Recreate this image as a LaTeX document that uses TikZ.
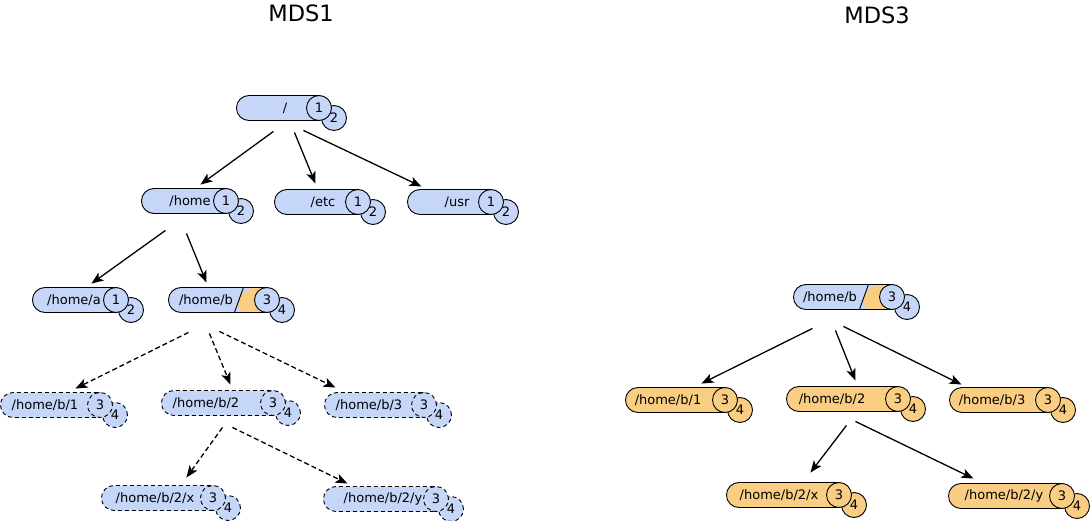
\documentclass[tikz,border=0pt]{standalone}
\usepackage{fontspec}
\setmainfont{DejaVu Sans}
\usetikzlibrary{arrows.meta}

\definecolor{mdsblue}{RGB}{197,214,248}
\definecolor{mdsorange}{RGB}{249,206,131}

\tikzset{
  pill/.style={draw, rounded corners=12.5pt, minimum height=25pt, inner sep=0pt, anchor=west, line width=0.9pt},
  num/.style={draw, circle, minimum size=25pt, inner sep=0pt, line width=0.9pt, font=\fontsize{13}{15}\selectfont},
  txt/.style={inner sep=0pt, font=\fontsize{13}{15}\selectfont},
  blue pill/.style={pill, fill=mdsblue},
  blue num/.style={num, fill=mdsblue},
  orange pill/.style={pill, fill=mdsorange},
  orange num/.style={num, fill=mdsorange},
  ghost pill/.style={pill, fill=mdsblue, dash pattern=on 4pt off 3pt},
  ghost num/.style={num, fill=mdsblue, dash pattern=on 4pt off 3pt},
  split pill/.style={pill, fill=mdsblue, path picture={
      \fill[mdsorange] ([xshift=75pt]path picture bounding box.north west) -- ([xshift=66pt]path picture bounding box.south west)
        -- (path picture bounding box.south east) -- (path picture bounding box.north east) -- cycle;
      \draw[line width=0.9pt] ([xshift=75pt]path picture bounding box.north west) -- ([xshift=66pt]path picture bounding box.south west);}},
  split num/.style={num, fill=mdsblue},
  link/.style={-{Stealth[length=12pt,width=9.5pt,inset=3pt]}, line width=1.3pt},
  ghost link/.style={link, dash pattern=on 5pt off 3pt}
}

% #1 kind, #2 name, #3 left, #4 right, #5 y, #6 label x, #7 label, #8 #9 numbers
\newcommand{\fsentry}[9]{%
  \node[#1 pill, minimum width=#4-#3] (#2) at (#3,#5) {};
  \node[txt] (#2-t) at (#6,#5) {#7};
  \node[#1 num] (#2-b) at (#4+5,#5+10) {#9};
  \node[#1 num] (#2-a) at (#4-10,#5) {#8};
}

\begin{document}
\begin{tikzpicture}[x=1pt, y=-1pt]
  \useasboundingbox (0,0) rectangle (1091,521);

  \node[font=\fontsize{22.5}{26}\selectfont] (mdsone) at (301,13) {MDS1};
  \node[font=\fontsize{22.5}{26}\selectfont] (mdsthree) at (877,15) {MDS3};

  % MDS1
  \fsentry{blue}{root}{236}{329}{108}{285}{/}{1}{2}
  \fsentry{blue}{home}{141}{236}{201}{190}{/home}{1}{2}
  \fsentry{blue}{etc}{274}{368}{202}{323}{/etc}{1}{2}
  \fsentry{blue}{usr}{407}{501}{202}{457}{/usr}{1}{2}
  \fsentry{blue}{homea}{32}{126}{300}{74}{/home/a}{1}{2}
  \fsentry{split}{homeb}{168}{277}{300}{206}{/home/b}{3}{4}
  \fsentry{ghost}{hbone}{0}{110}{405}{45}{/home/b/1}{3}{4}
  \fsentry{ghost}{hbtwo}{161}{283}{403}{206}{/home/b/2}{3}{4}
  \fsentry{ghost}{hbthree}{324}{434}{405}{369}{/home/b/3}{3}{4}
  \fsentry{ghost}{hbx}{101}{223}{498}{155}{/home/b/2/x}{3}{4}
  \fsentry{ghost}{hby}{323}{446}{499}{383}{/home/b/2/y}{3}{4}

  % MDS3
  \fsentry{split}{rhb}{793}{902}{297}{830}{/home/b}{3}{4}
  \fsentry{orange}{rhbone}{625}{735}{400}{668}{/home/b/1}{3}{4}
  \fsentry{orange}{rhbtwo}{786}{908}{399}{832}{/home/b/2}{3}{4}
  \fsentry{orange}{rhbthree}{949}{1058}{400}{992}{/home/b/3}{3}{4}
  \fsentry{orange}{rhbx}{726}{849}{495}{779}{/home/b/2/x}{3}{4}
  \fsentry{orange}{rhby}{948}{1072}{496}{1004}{/home/b/2/y}{3}{4}

  \draw[link] ([shift={(-9.5,10.5)}]root.south) -- ([shift={(11.5,-3.5)}]home.north);
  \draw[link] ([shift={(11.5,11.5)}]root.south) -- ([shift={(-6,-5.5)}]etc.north);
  \draw[link] ([shift={(20.5,9.5)}]root.south) -- ([shift={(-33,-2.5)}]usr.north);
  \draw[link] ([shift={(-23.5,16.5)}]home.south) -- ([shift={(12,-3.5)}]homea.north);
  \draw[link] ([shift={(-2.5,19.5)}]home.south) -- ([shift={(-16.5,-4.5)}]homeb.north);

  \draw[ghost link] ([shift={(-34.5,19.5)}]homeb.south) -- ([shift={(20,-3.5)}]hbone.north);
  \draw[ghost link] ([shift={(-13.5,20.5)}]homeb.south) -- ([shift={(8,-5.5)}]hbtwo.north);
  \draw[ghost link] ([shift={(-3.5,18.5)}]homeb.south) -- ([shift={(-44,-4.5)}]hbthree.north);
  \draw[ghost link] ([shift={(0,11.5)}]hbtwo.south) -- ([shift={(24,-7.5)}]hbx.north);
  \draw[ghost link] ([shift={(10,11.5)}]hbtwo.south) -- ([shift={(-37.5,-2.5)}]hby.north);

  \draw[link] ([shift={(-35.5,18.5)}]rhb.south) -- ([shift={(21,-3.5)}]rhbone.north);
  \draw[link] ([shift={(-12.5,20.5)}]rhb.south) -- ([shift={(8,-5.5)}]rhbtwo.north);
  \draw[link] ([shift={(-4.5,16.5)}]rhb.south) -- ([shift={(-42.5,-2.5)}]rhbthree.north);
  \draw[link] ([shift={(-1,13.5)}]rhbtwo.south) -- ([shift={(22.5,-9.5)}]rhbx.north);
  \draw[link] ([shift={(8,9.5)}]rhbtwo.south) -- ([shift={(-37,-4.5)}]rhby.north);
\end{tikzpicture}
\end{document}
